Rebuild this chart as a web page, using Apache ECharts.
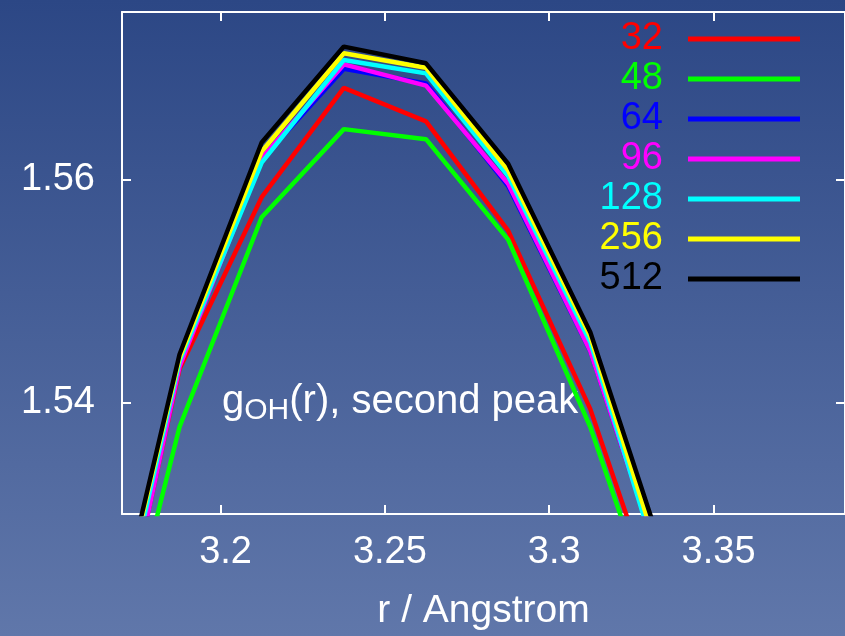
<!DOCTYPE html>
<html>
<head>
<meta charset="utf-8">
<script src="https://cdn.jsdelivr.net/npm/echarts@6/dist/echarts.min.js"></script>
<style>
html,body{margin:0;padding:0;width:845px;height:636px;overflow:hidden;background:linear-gradient(to bottom,#2c4785,#6077aa);}
#chart{width:845px;height:636px;}
</style>
</head>
<body>
<div id="chart"></div>
<script>
// r values (Angstrom)
const rValues = [3.1625, 3.1875, 3.2125, 3.2375, 3.2625, 3.2875, 3.3125, 3.3375];
const seriesNames = ['32', '48', '64', '96', '128', '256', '512'];
const g32  = [1.5094, 1.5430, 1.5584, 1.5682, 1.5652, 1.5554, 1.5394, 1.5178];
const g48  = [1.5085, 1.5378, 1.5566, 1.5645, 1.5636, 1.5546, 1.5378, 1.5163];
const g64  = [1.5090, 1.5434, 1.5618, 1.5699, 1.5686, 1.5594, 1.5446, 1.5223];
const g96  = [1.5090, 1.5432, 1.5619, 1.5703, 1.5684, 1.5596, 1.5446, 1.5223];
const g128 = [1.5113, 1.5437, 1.5615, 1.5707, 1.5695, 1.5603, 1.5454, 1.5214];
const g256 = [1.5127, 1.5440, 1.5625, 1.5713, 1.5700, 1.5608, 1.5459, 1.5224];
const g512 = [1.5131, 1.5443, 1.5633, 1.5719, 1.5704, 1.5614, 1.5463, 1.5239];
const xTicks = [3.2, 3.25, 3.3, 3.35];
const yTicks = [1.54, 1.56];
const colors = ['#ff0000', '#00ff00', '#0000ff', '#ff00ff', '#00ffff', '#ffff00', '#000000'];
const allValues = [g32, g48, g64, g96, g128, g256, g512];

const FONT = '"Liberation Sans", Arial, Helvetica, sans-serif';
const chart = echarts.init(document.getElementById('chart'), null, {renderer: 'canvas'});

const axisLineStyle = {show: true, lineStyle: {color: '#ffffff', width: 2}};
const tickStyle = {show: true, inside: true, length: 9, lineStyle: {color: '#ffffff', width: 2}};

const option = {
  backgroundColor: 'transparent',
  animation: false,
  grid: {left: 122, top: 12, right: -4, bottom: 121, containLabel: false},
  legend: {
    orient: 'vertical',
    align: 'right',
    right: 45,
    top: 19,
    padding: 0,
    itemGap: 0,
    itemWidth: 112,
    itemHeight: 5,
    icon: 'rect',
    selectedMode: false,
    textStyle: {fontFamily: FONT, fontSize: 38, lineHeight: 40, padding: [0, 20, 0, 0]},
    data: seriesNames.map((n, i) => ({name: n, textStyle: {color: colors[i]}}))
  },
  xAxis: [{
    type: 'value', position: 'bottom', min: 3.17, max: 3.39,
    name: 'r / Angstrom', nameLocation: 'middle', nameGap: 78,
    nameTextStyle: {color: '#ffffff', fontFamily: FONT, fontSize: 39},
    axisLine: axisLineStyle,
    axisTick: Object.assign({customValues: xTicks}, tickStyle),
    axisLabel: {customValues: xTicks, color: '#ffffff', fontFamily: FONT, fontSize: 38, margin: 20, padding: [0, 0, 0, 10],
      formatter: v => String(+v.toFixed(2))},
    splitLine: {show: false}
  }, {
    type: 'value', position: 'top', min: 3.17, max: 3.39,
    axisLine: axisLineStyle,
    axisTick: Object.assign({customValues: xTicks}, tickStyle),
    axisLabel: {show: false},
    splitLine: {show: false}
  }],
  yAxis: [{
    type: 'value', position: 'left', min: 1.53, max: 1.575,
    axisLine: axisLineStyle,
    axisTick: Object.assign({customValues: yTicks}, tickStyle),
    axisLabel: {customValues: yTicks, color: '#ffffff', fontFamily: FONT, fontSize: 38, margin: 27,
      formatter: v => String(+v.toFixed(2))},
    splitLine: {show: false}
  }, {
    type: 'value', position: 'right', min: 1.53, max: 1.575,
    axisLine: axisLineStyle,
    axisTick: Object.assign({customValues: yTicks}, tickStyle),
    axisLabel: {show: false},
    splitLine: {show: false}
  }],
  graphic: [{
    type: 'text',
    left: 222,
    top: 382,
    style: {
      text: 'g{sub|OH}(r), second peak',
      fill: '#ffffff',
      font: '40px ' + FONT,
      rich: {sub: {fontSize: 30, fontFamily: FONT, fill: '#ffffff', padding: [17, 0, 0, 0]}}
    }
  }],
  series: allValues.map((vals, i) => ({
    name: seriesNames[i],
    type: 'line',
    xAxisIndex: 0,
    yAxisIndex: 0,
    symbol: 'none',
    clip: true,
    color: colors[i],
    lineStyle: {color: colors[i], width: 4.5},
    itemStyle: {color: colors[i]},
    z: 2 + i,
    data: rValues.map((r, k) => [r, vals[k]])
  }))
};
chart.setOption(option);
</script>
</body>
</html>
